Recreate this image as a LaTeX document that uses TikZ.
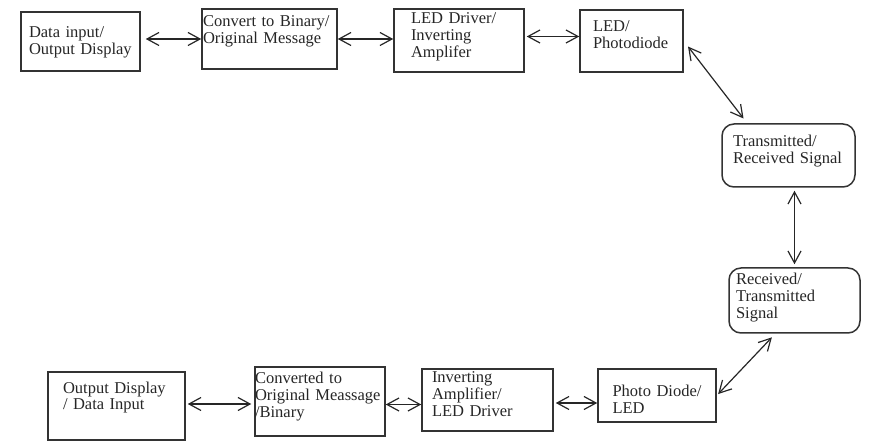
\documentclass[tikz,border=0pt]{standalone}
\usepackage{fontspec}
\setmainfont{Liberation Serif}
\usetikzlibrary{arrows.meta}
\begin{document}
\begin{tikzpicture}[x=1pt, y=-1pt,
	blk/.style = {draw=black!80, line width=1.5pt, rectangle, inner sep=0pt, align=left, text=black!85, font=\fontsize{16.5}{17}\selectfont},
	sig/.style = {blk, rounded corners=12pt},
	lift/.style = {text height=0pt, text depth=#1},
	link/.style = {draw=black!85, line width=1.2pt, {Straight Barb[length=12pt,width=13pt]}-{Straight Barb[length=12pt,width=13pt]}}]

	\useasboundingbox (0,0) rectangle (876,446);

	\node[blk, minimum width=119, minimum height=59, text width=103, lift=7pt] (inp) at (80.5,41.5) {Data input/\\Output Display};
	\node[blk, minimum width=135, minimum height=60, text width=133, lift=24pt] (conv) at (269.5,39) {Convert to Binary/\\Original Message};
	\node[blk, minimum width=130, minimum height=63, text width=96, lift=33pt] (drv) at (459,40.5) {LED Driver/\\Inverting\\Amplifer};
	\node[blk, minimum width=103, minimum height=62, text width=77, lift=18pt] (led) at (631.5,41) {LED/\\Photodiode};
	\node[sig, minimum width=133, minimum height=63, text width=111, lift=18pt] (sigA) at (788.5,155.5) {Transmitted/\\Received Signal};
	\node[sig, minimum width=131, minimum height=65, text width=117, lift=31pt] (sigB) at (794.5,300.5) {Received/\\Transmitted\\Signal};
	\node[blk, minimum width=118, minimum height=53, text width=89, text height=2pt, text depth=0pt] (pd) at (657,395.5) {Photo Diode/\\LED};
	\node[blk, minimum width=131, minimum height=62, text width=111, lift=34pt] (amp) at (487.5,400) {Inverting\\Amplifier/\\LED Driver};
	\node[blk, minimum width=130, minimum height=69, text width=130, lift=35pt] (conv2) at (320,401.5) {Converted to\\Original Meassage\\/Binary};
	\node[blk, minimum width=137, minimum height=68, text width=107, lift=26pt] (outp) at (116.5,406) {Output Display\\/ Data Input};

	\draw[link, shorten <=5pt] (inp.east |- conv.west) to (conv.west);
	\draw[link] (conv.east) to (drv.west |- conv.east);
	\draw[link, shorten <=2pt] ([yshift=4pt]drv.east) to ([yshift=4pt]drv.east -| led.west);
	\draw[link, shorten <=7pt, shorten >=6pt] (led.east) to (sigA.142);
	\draw[link, shorten <=3pt, shorten >=3pt] (sigB.north |- sigA.south) to (sigB.north);
	\draw[link, shorten <=5pt, shorten >=2pt] (sigB.240) to (pd.east);
	\draw[link, shorten <=2pt, shorten >=3pt] ([yshift=2pt]outp.east) to ([yshift=2pt]outp.east -| conv2.west);
	\draw[link] ([yshift=-3pt]conv2.east) to ([yshift=-3pt]conv2.east -| amp.west);
	\draw[link, shorten <=2pt] ([yshift=-3pt]amp.east) to ([yshift=-3pt]amp.east -| pd.west);
\end{tikzpicture}
\end{document}
